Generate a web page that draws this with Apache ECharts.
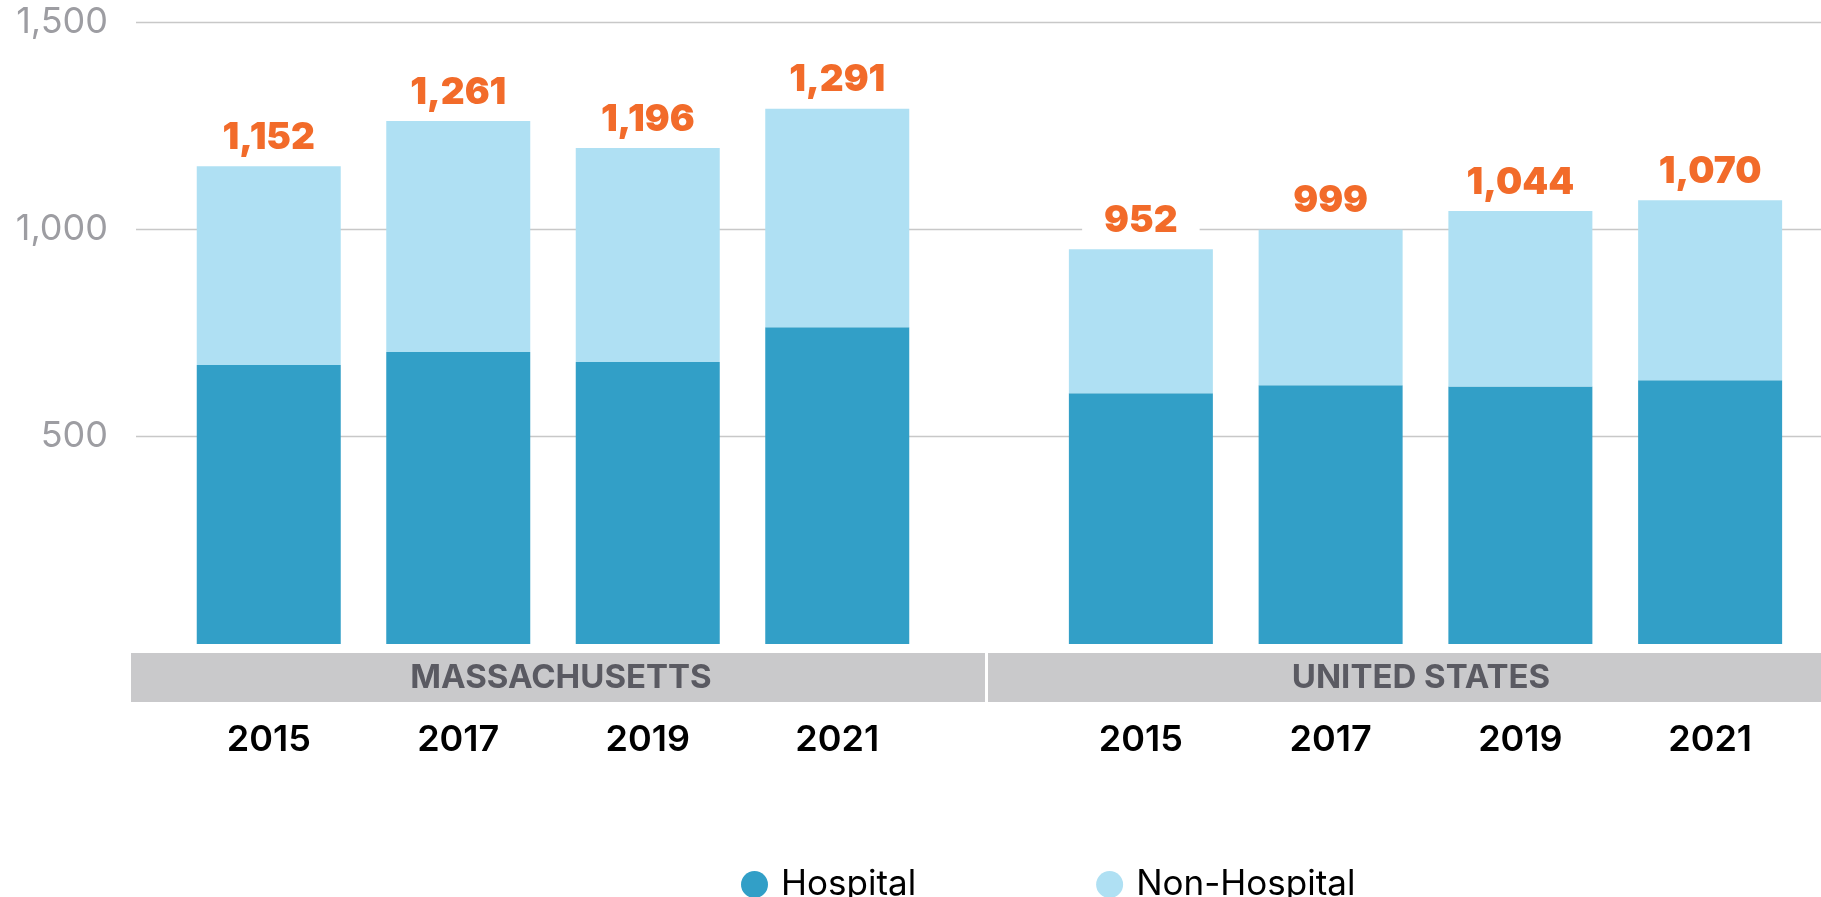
<!DOCTYPE html>
<html>
<head>
<meta charset="utf-8">
<script src="https://cdn.jsdelivr.net/npm/echarts@6/dist/echarts.min.js"></script>
<style>
  html, body { margin: 0; padding: 0; background: #fff; }
  #chart { width: 1821px; height: 897px; }
</style>
</head>
<body>
<div id="chart"></div>
<script>
var years = ['2015', '2017', '2019', '2021'];
var groups = ['MASSACHUSETTS', 'UNITED STATES'];
var maTotal = [1152, 1261, 1196, 1291];
var maHospital = [673, 704, 680, 764];
var usTotal = [952, 999, 1044, 1070];
var usHospital = [605, 624, 621, 636];

var HOSP = '#329fc7';
var NONHOSP = '#afe0f3';
var FONT = 'Inter, "Liberation Sans", sans-serif';

function minus(a, b) {
  return a.map(function (v, i) { return v - b[i]; });
}

function totalLabel(totals) {
  return {
    show: true,
    position: 'top',
    distance: 9,
    color: '#f26b2a',
    fontFamily: FONT,
    fontWeight: 900,
    fontSize: 37,
    backgroundColor: '#fff',
    padding: [3, 22, 1, 22],
    formatter: function (p) { return totals[p.dataIndex].toLocaleString('en-US'); }
  };
}

var gridTop = 22, gridBottom = 253;

var yHidden = { type: 'value', min: 0, max: 1500, interval: 500, show: false };

var xYears = function (gi) {
  return {
    type: 'category', gridIndex: gi, data: years,
    axisLine: { show: false }, axisTick: { show: false },
    axisLabel: { margin: 78, color: '#000', fontFamily: FONT, fontWeight: 600, fontSize: 36 }
  };
};

var option = {
  animation: false,
  grid: [
    { left: 136, right: 0, top: gridTop, bottom: gridBottom },
    { left: 174, width: 758, top: gridTop, bottom: gridBottom },
    { left: 1046, width: 759, top: gridTop, bottom: gridBottom }
  ],
  xAxis: [
    { type: 'category', gridIndex: 0, data: [''], show: false },
    xYears(1),
    xYears(2)
  ],
  yAxis: [
    {
      type: 'value', gridIndex: 0, min: 0, max: 1500, interval: 500,
      axisLine: { show: false }, axisTick: { show: false },
      axisLabel: {
        margin: 28, color: '#9d9da2', fontFamily: FONT, fontSize: 36,
        formatter: function (v) { return v === 0 ? '' : v.toLocaleString('en-US'); }
      },
      splitLine: { lineStyle: { color: ['rgba(0,0,0,0)', '#c8c8c8', '#c8c8c8', '#c8c8c8'], width: 1.3 } }
    },
    Object.assign({ gridIndex: 1 }, yHidden),
    Object.assign({ gridIndex: 2 }, yHidden)
  ],
  legend: {
    left: 736, top: 862,
    icon: 'circle', itemWidth: 27, itemHeight: 27, itemGap: 180,
    data: ['Hospital', 'Non-Hospital'],
    textStyle: { color: '#000', fontFamily: FONT, fontSize: 35, padding: [0, 0, 0, 8] }
  },
  graphic: [
    { type: 'rect', shape: { x: 131, y: 653, width: 854, height: 49 }, style: { fill: '#c9c9cb' } },
    { type: 'rect', shape: { x: 988, y: 653, width: 833, height: 49 }, style: { fill: '#c9c9cb' } },
    { type: 'text', x: 561, y: 678, style: { text: groups[0], fill: '#5a5a62', font: 'bold 33px ' + FONT, align: 'center', verticalAlign: 'middle' } },
    { type: 'text', x: 1421, y: 678, style: { text: groups[1], fill: '#5a5a62', font: 'bold 33px ' + FONT, align: 'center', verticalAlign: 'middle' } }
  ],
  series: [
    { name: 'Hospital', type: 'bar', stack: 'ma', xAxisIndex: 1, yAxisIndex: 1, barWidth: 144, data: maHospital, itemStyle: { color: HOSP } },
    { name: 'Non-Hospital', type: 'bar', stack: 'ma', xAxisIndex: 1, yAxisIndex: 1, barWidth: 144, data: minus(maTotal, maHospital), itemStyle: { color: NONHOSP }, label: totalLabel(maTotal) },
    { name: 'Hospital', type: 'bar', stack: 'us', xAxisIndex: 2, yAxisIndex: 2, barWidth: 144, data: usHospital, itemStyle: { color: HOSP } },
    { name: 'Non-Hospital', type: 'bar', stack: 'us', xAxisIndex: 2, yAxisIndex: 2, barWidth: 144, data: minus(usTotal, usHospital), itemStyle: { color: NONHOSP }, label: totalLabel(usTotal) }
  ]
};

var chart = echarts.init(document.getElementById('chart'));
chart.setOption(option);
</script>
</body>
</html>
